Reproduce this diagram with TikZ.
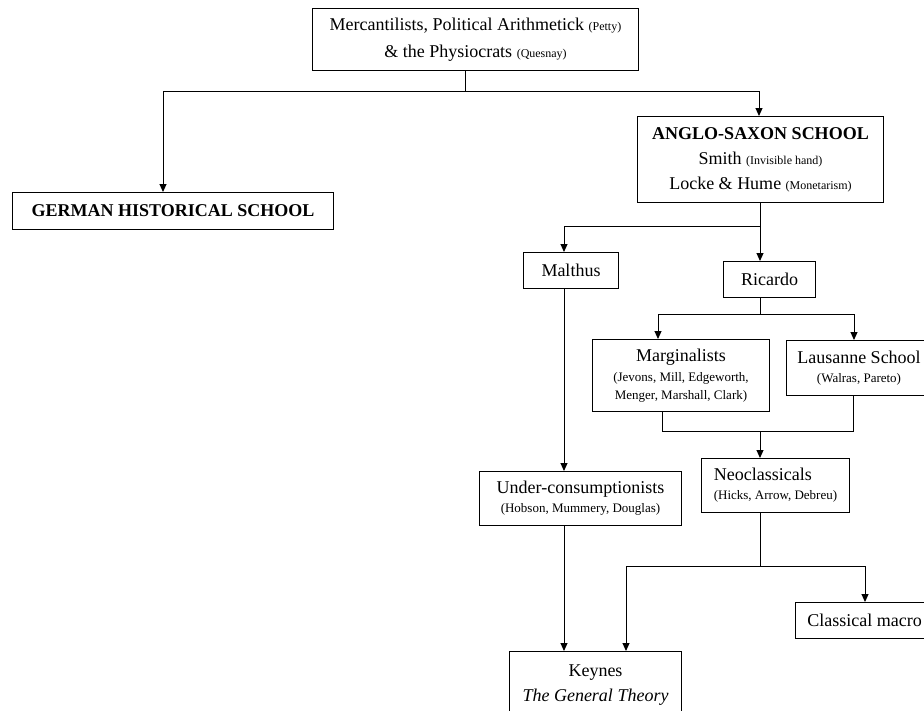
\documentclass[tikz,border=0pt]{standalone}
\usepackage{fontspec}
\setmainfont{Liberation Serif}
\usetikzlibrary{arrows.meta}
\newcommand\aside[1]{{\fontsize{12}{14}\selectfont #1}}
\newcommand\names[1]{{\fontsize{13}{16}\selectfont #1}}
\tikzset{
  box/.style={draw, anchor=north west, inner sep=0pt, align=center, font=\fontsize{18}{25}\selectfont},
  arr/.style={-{Triangle[length=8pt,width=7pt]}},
}

\begin{document}
\begin{tikzpicture}[x=1pt, y=-1pt, line width=1pt]
			\useasboundingbox (0,0) rectangle (924,710);
			\clip (0,0) rectangle (924,710);
			%%%%% BOXES %%%%%
			\node[box, minimum width=326, minimum height=62] (merc) at (312,8) {Mercantilists, Political Arithmetick \aside{(Petty)}\\[2pt] \& the Physiocrats \aside{(Quesnay)}};
			\node[box, minimum width=321, minimum height=37] (german) at (12,192) {\bfseries GERMAN HISTORICAL SCHOOL};
			\node[box, minimum width=246, minimum height=86] (anglo) at (637,116) {\bfseries ANGLO-SAXON SCHOOL\\ Smith \aside{(Invisible hand)}\\ Locke \& Hume \aside{(Monetarism)}};
			\node[box, minimum width=95, minimum height=36] (malthus) at (523,252) {Malthus};
			\node[box, minimum width=92, minimum height=36] (ricardo) at (723,261) {Ricardo};
			\node[box, minimum width=177, minimum height=72] (marg) at (592,339) {Marginalists\\[-5pt] \names{(Jevons, Mill, Edgeworth,}\\[-7pt] \names{Menger, Marshall, Clark)}};
			\node[box, minimum width=145, minimum height=55] (laus) at (786,340) {Lausanne School\\[-6pt] \names{(Walras, Pareto)}};
			\node[box, minimum width=202, minimum height=54] (under) at (479,471) {Under-consumptionists\\[-6pt] \names{(Hobson, Mummery, Douglas)}};
			\node[box, minimum width=148, minimum height=54, align=left] (neo) at (701,458) {Neoclassicals\\[-6pt] \names{(Hicks, Arrow, Debreu)}};
			\node[box, minimum width=138, minimum height=36] (macro) at (795,602) {Classical macro};
			\node[box, minimum width=172, minimum height=68] (keynes) at (509,651) {Keynes\\ \itshape The General Theory};
			
			%%%%% LINKS %%%%%
			\coordinate (top fork) at (465,91);
			\coordinate (german in) at (163,91);
			\coordinate (anglo in) at (759,91);
			\draw (merc.south -| top fork) -- (top fork);
			\draw[arr] (top fork) -| (german in |- german.north);
			\draw[arr] (top fork) -| (anglo in |- anglo.north);
			
			\coordinate (anglo fork) at (760,226);
			\coordinate (malthus in) at (564,226);
			\draw[arr] (anglo.south -| anglo fork) -- (ricardo.north -| anglo fork);
			\draw[arr] (anglo fork) -| (malthus in |- malthus.north);
			\draw[arr] (malthus.south -| malthus in) -- (under.north -| malthus in);
			\draw[arr] (under.south -| malthus in) -- (keynes.north -| malthus in);
			
			\coordinate (ricardo fork) at (760,314);
			\coordinate (marg in) at (658,314);
			\coordinate (laus in) at (854,314);
			\draw (ricardo.south -| ricardo fork) -- (ricardo fork);
			\draw[arr] (ricardo fork) -| (marg in |- marg.north);
			\draw[arr] (ricardo fork) -| (laus in |- laus.north);
			
			\coordinate (join l) at (662,431);
			\coordinate (join m) at (760,431);
			\coordinate (join r) at (853,431);
			\draw (marg.south -| join l) -- (join l) -- (join r) -- (laus.south -| join r);
			\draw[arr] (join m) -- (neo.north -| join m);
			
			\coordinate (neo fork) at (760,566);
			\coordinate (keynes in) at (626,566);
			\coordinate (macro in) at (865,566);
			\draw (neo.south -| neo fork) -- (neo fork);
			\draw[arr] (neo fork) -| (keynes in |- keynes.north);
			\draw[arr] (neo fork) -| (macro in |- macro.north);
			%%%%% END %%%%%
\end{tikzpicture}
\end{document}
